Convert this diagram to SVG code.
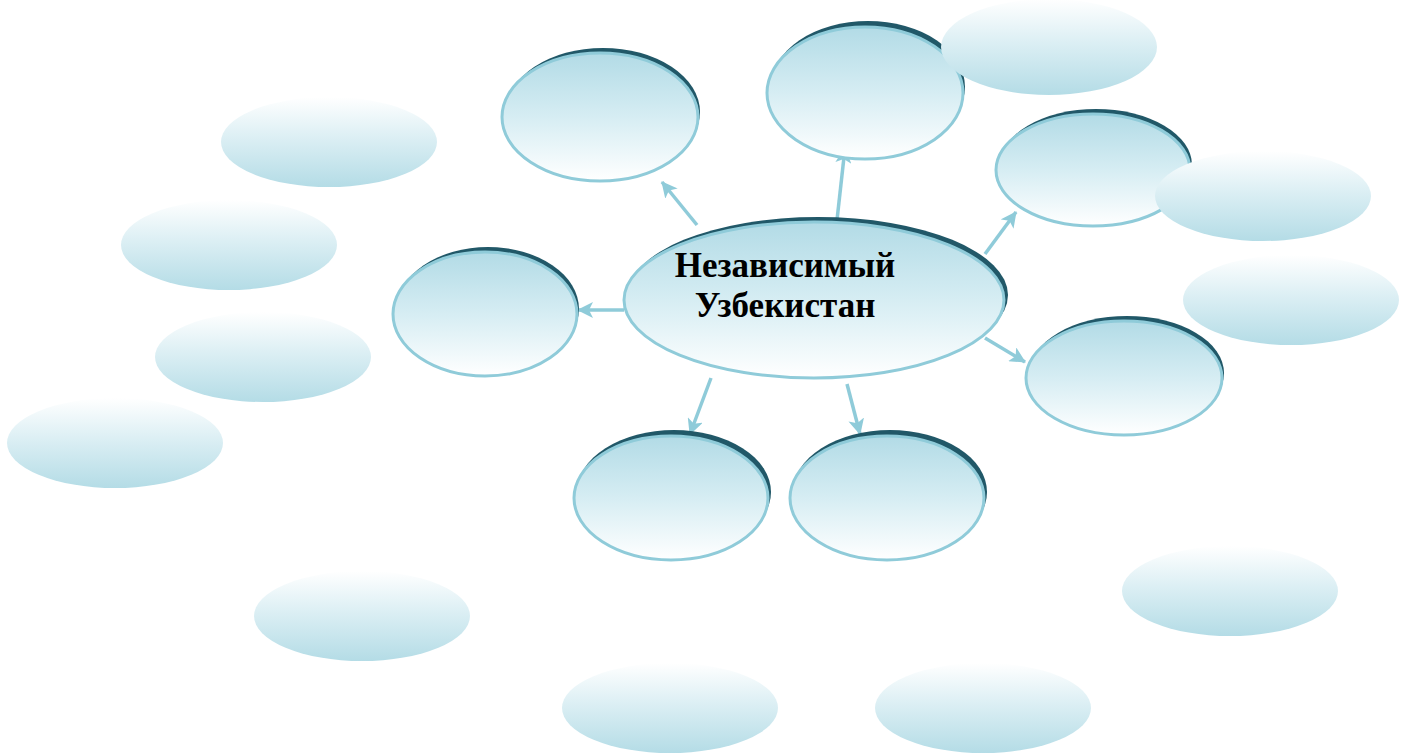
<svg xmlns="http://www.w3.org/2000/svg" width="1408" height="753" viewBox="0 0 1408 753">
<defs>
<linearGradient id="gNode" x1="0" y1="0" x2="0" y2="1">
<stop offset="0" stop-color="#B2DBE6"/>
<stop offset="0.5" stop-color="#D6EDF3"/>
<stop offset="1" stop-color="#FFFFFF"/>
</linearGradient>
<linearGradient id="gPlain" x1="0" y1="0" x2="0" y2="1">
<stop offset="0" stop-color="#FFFFFF"/>
<stop offset="0.45" stop-color="#DCEFF4"/>
<stop offset="1" stop-color="#B4DCE6"/>
</linearGradient>
<marker id="arr" markerUnits="userSpaceOnUse" markerWidth="18" markerHeight="16" refX="15" refY="8" orient="auto">
<path d="M0,0 L16,8 L0,16 L4,8 Z" fill="#8FCBD9"/>
</marker>
</defs>
<style>
.shadow{fill:#215868;}
.node{fill:url(#gNode);stroke:#8FCBD9;stroke-width:3;}
.plain{fill:url(#gPlain);}
.conn{stroke:#8FCBD9;stroke-width:3.5;fill:none;marker-end:url(#arr);}
.title{font-family:"Liberation Serif","Times New Roman",serif;font-weight:bold;font-size:35px;fill:#000;text-anchor:middle;}
</style>

<g id="connectors">
<line class="conn" x1="697" y1="225" x2="662" y2="182"/>
<line class="conn" x1="837" y1="220" x2="845" y2="148"/>
<line class="conn" x1="985" y1="254" x2="1016" y2="212"/>
<line class="conn" x1="624" y1="310" x2="578" y2="310"/>
<line class="conn" x1="985" y1="338" x2="1025" y2="362"/>
<line class="conn" x1="711" y1="378" x2="690" y2="434"/>
<line class="conn" x1="847" y1="384" x2="860" y2="434"/>
</g>

<g id="center">
<ellipse class="shadow" cx="818" cy="295" rx="190" ry="78"/>
<ellipse class="node" cx="814" cy="300" rx="190" ry="78"/>
<text class="title" x="785" y="277">Независимый</text>
<text class="title" x="785" y="317">Узбекистан</text>
</g>

<g id="n1"><ellipse class="shadow" cx="603" cy="112" rx="97" ry="64"/><ellipse class="node" cx="600" cy="117" rx="98" ry="64"/></g>
<g id="n2"><ellipse class="shadow" cx="868" cy="87" rx="97" ry="66"/><ellipse class="node" cx="865" cy="93" rx="98" ry="66"/></g>
<g id="n3"><ellipse class="shadow" cx="1096" cy="165" rx="96" ry="56"/><ellipse class="node" cx="1093" cy="170" rx="97" ry="56"/></g>
<g id="n4"><ellipse class="shadow" cx="488" cy="309" rx="91" ry="62"/><ellipse class="node" cx="485" cy="314" rx="92" ry="62"/></g>
<g id="n5"><ellipse class="shadow" cx="1127" cy="373" rx="97" ry="57"/><ellipse class="node" cx="1124" cy="378" rx="98" ry="57"/></g>
<g id="n6"><ellipse class="shadow" cx="674" cy="492" rx="97" ry="62"/><ellipse class="node" cx="671" cy="498" rx="97" ry="62"/></g>
<g id="n7"><ellipse class="shadow" cx="890" cy="492" rx="97" ry="62"/><ellipse class="node" cx="887" cy="498" rx="97" ry="62"/></g>

<g id="p1"><ellipse class="plain" cx="329" cy="142" rx="108" ry="45"/></g>
<g id="p2"><ellipse class="plain" cx="229" cy="245" rx="108" ry="45"/></g>
<g id="p3"><ellipse class="plain" cx="263" cy="357" rx="108" ry="45"/></g>
<g id="p4"><ellipse class="plain" cx="115" cy="443" rx="108" ry="45"/></g>
<g id="p5"><ellipse class="plain" cx="362" cy="616" rx="108" ry="45"/></g>
<g id="p6"><ellipse class="plain" cx="670" cy="708" rx="108" ry="45"/></g>
<g id="p7"><ellipse class="plain" cx="983" cy="708" rx="108" ry="45"/></g>
<g id="p8"><ellipse class="plain" cx="1230" cy="591" rx="108" ry="45"/></g>
<g id="p9"><ellipse class="plain" cx="1291" cy="300" rx="108" ry="45"/></g>
<g id="p10"><ellipse class="plain" cx="1263" cy="196" rx="108" ry="45"/></g>
<g id="p11"><ellipse class="plain" cx="1049" cy="47" rx="108" ry="48"/></g>
</svg>
